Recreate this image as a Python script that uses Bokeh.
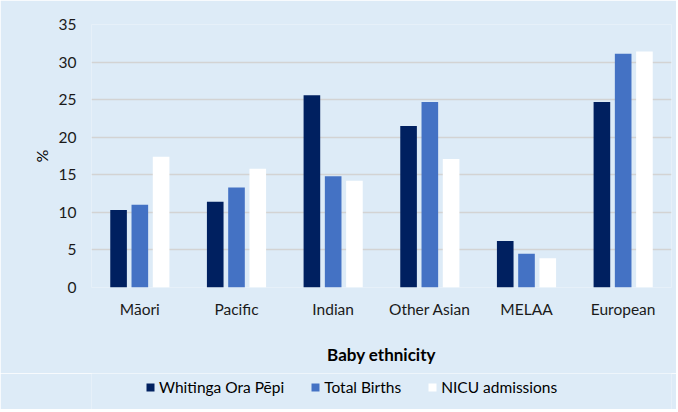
from bokeh.plotting import figure
from bokeh.layouts import column
from bokeh.models import (FactorRange, ColumnDataSource, FixedTicker, Legend, LegendItem)
from bokeh.transform import dodge
from bokeh.embed import file_html
from bokeh.resources import INLINE

categories = ["Māori", "Pacific", "Indian", "Other Asian", "MELAA", "European"]
whitinga = [10.3, 11.4, 25.6, 21.5, 6.2, 24.7]
total_births = [11.0, 13.3, 14.8, 24.7, 4.5, 31.1]
nicu = [17.4, 15.8, 14.2, 17.1, 3.9, 31.4]
y_ticks = [0, 5, 10, 15, 20, 25, 30, 35]
series_names = ["Whitinga Ora Pēpi", "Total Births", "NICU admissions"]
colors = ["#002060", "#4472C4", "#FFFFFF"]

FONT = "Lato"
BG = "#DDEBF7"
W = 676

src = ColumnDataSource(dict(cat=categories, w=whitinga, t=total_births, n=nicu))

p = figure(x_range=FactorRange(*categories, range_padding=0), y_range=(0, 35),
           width=W, height=373, output_backend="svg", toolbar_location=None,
           min_border_left=91, min_border_right=5, min_border_top=24, min_border_bottom=86)
p.background_fill_color = BG
p.border_fill_color = BG
p.outline_line_color = None

for field, off, col in zip(["w", "t", "n"], [-0.22, 0.0, 0.22], colors):
    p.vbar(x=dodge("cat", off, range=p.x_range), top=field, width=0.172, source=src,
           fill_color=col, line_color=None)

p.xgrid.grid_line_color = None
p.ygrid.grid_line_color = "#D3D3D3"
p.ygrid.grid_line_width = 1.5
p.yaxis.ticker = FixedTicker(ticks=y_ticks)

for ax in (p.xaxis, p.yaxis):
    ax.axis_line_color = None
    ax.major_tick_line_color = None
    ax.minor_tick_line_color = None
    ax.major_tick_out = 0
    ax.major_tick_in = 0
    ax.major_label_text_font = FONT
    ax.major_label_text_font_size = "15.5px"
    ax.major_label_text_color = "#1a1a1a"
    ax.axis_label_text_font = FONT
    ax.axis_label_text_color = "#000000"

p.yaxis.major_label_standoff = 15
p.yaxis.axis_label = "%"
p.yaxis.axis_label_text_font_style = "normal"
p.yaxis.axis_label_text_font_size = "16px"
p.yaxis.axis_label_standoff = 5

p.xaxis.major_label_standoff = 12
p.xaxis.axis_label = "Baby ethnicity"
p.xaxis.axis_label_text_font_style = "bold"
p.xaxis.axis_label_text_font_size = "17px"
p.xaxis.axis_label_standoff = 23

# legend strip below the chart (frame aligned with the chart's frame)
lg = figure(width=W, height=36, x_axis_type=None, y_axis_type=None,
            x_range=(0, 1), y_range=(0, 1),
            output_backend="svg", toolbar_location=None,
            min_border_left=91, min_border_right=5, min_border_top=0, min_border_bottom=0)
lg.background_fill_color = BG
lg.border_fill_color = BG
lg.outline_line_color = None
# zero-height placeholder bars: only their legend swatches are visible
lrs = [lg.vbar(x=[-5], top=[0], bottom=[0], width=0.1, fill_color=c, line_color=None)
       for c in colors]

legend = Legend(items=[LegendItem(label=n, renderers=[r]) for n, r in zip(series_names, lrs)],
                orientation="horizontal", location=(54, 13),
                glyph_width=10, glyph_height=10, label_standoff=4, spacing=26,
                label_height=18, margin=0, padding=0,
                label_text_font=FONT, label_text_font_size="15.5px", label_text_color="#000000",
                background_fill_alpha=0, border_line_color=None)
lg.add_layout(legend, "center")

page = column(p, lg, spacing=0)

open("out.html", "w").write(file_html(page, INLINE))
